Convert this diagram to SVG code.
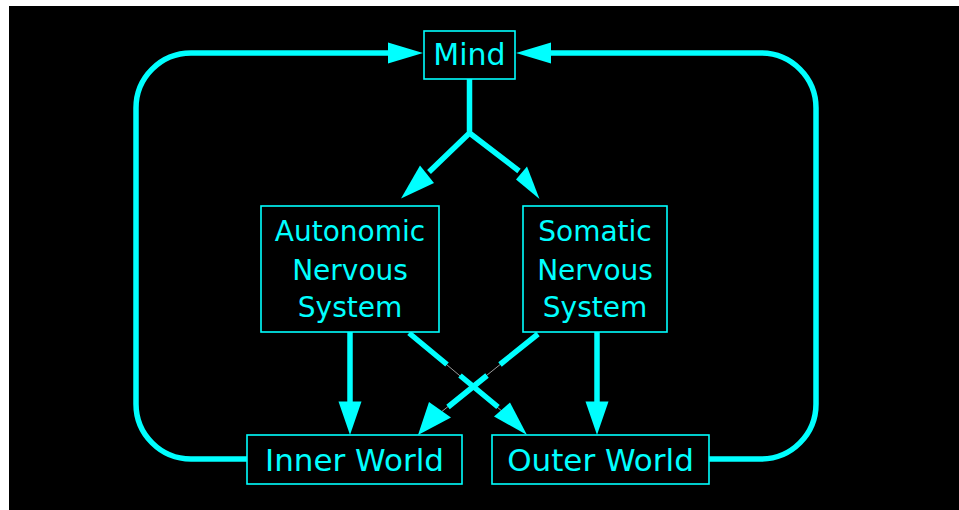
<svg xmlns="http://www.w3.org/2000/svg" width="959" height="510" viewBox="0 0 959 510">
  <defs>
    <style>
      .box { fill: #000; stroke: #00FFFF; stroke-width: 1.6; }
      .lbl { fill: #00FFFF; font-family: "DejaVu Sans", "Liberation Sans", sans-serif; text-anchor: middle; }
      .wire { fill: none; stroke: #00FFFF; stroke-width: 5.5; stroke-linecap: butt; }
      .thin { fill: none; stroke: #9a9a9a; stroke-width: 1; }
      .head { fill: #00FFFF; stroke: none; }
    </style>
  </defs>
  <rect x="0" y="0" width="959" height="510" fill="#fff"/>
  <rect x="9" y="6" width="950" height="504" fill="#000"/>

  <g id="connectors">
    <!-- outer loops -->
    <path class="wire" d="M 247 459 H 191 A 55 55 0 0 1 136 404 V 108 A 55 55 0 0 1 191 53 H 392"/>
    <polygon class="head" points="423,53 388,42.5 388,63.5"/>
    <path class="wire" d="M 709 459 H 761 A 55 55 0 0 0 816 404 V 108 A 55 55 0 0 0 761 53 H 548"/>
    <polygon class="head" points="516,53 551,42.5 551,63.5"/>

    <!-- Mind split -->
    <path class="wire" d="M 469.5 79 V 133 L 429 172 M 469.5 133 L 519 171"/>
    <polygon class="head" points="401,198.5 420,165.5 434,183"/>
    <polygon class="head" points="539.5,199 516,179.5 527,166.5"/>

    <!-- vertical arrows -->
    <path class="wire" d="M 350 332 V 404"/>
    <polygon class="head" points="350,435 338.5,401.5 361.5,401.5"/>
    <path class="wire" d="M 597 332 V 404"/>
    <polygon class="head" points="597,435 585.5,401.5 608.5,401.5"/>

    <!-- crossing arrows -->
    <path class="thin" d="M 409 333 L 503 412"/>
    <path class="wire" d="M 409 333 L 447 364.5 M 460 375.5 L 498 407"/>
    <polygon class="head" points="527,435 494,416.5 510,402.5"/>

    <path class="thin" d="M 538 334 L 440 413"/>
    <path class="wire" d="M 538 334 L 500 364.5 M 487 375.5 L 448 407"/>
    <polygon class="head" points="418,435 429,402 451,417.5"/>
  </g>

  <g id="mind">
    <rect class="box" x="424" y="31" width="91" height="48"/>
    <text class="lbl" x="469.5" y="65" font-size="30">Mind</text>
  </g>
  <g id="autonomic">
    <rect class="box" x="261" y="206" width="178" height="126"/>
    <text class="lbl" x="350" y="241" font-size="28">Autonomic</text>
    <text class="lbl" x="350" y="280" font-size="28">Nervous</text>
    <text class="lbl" x="350" y="317" font-size="28">System</text>
  </g>
  <g id="somatic">
    <rect class="box" x="523" y="206" width="144" height="126"/>
    <text class="lbl" x="595" y="241" font-size="28">Somatic</text>
    <text class="lbl" x="595" y="280" font-size="28">Nervous</text>
    <text class="lbl" x="595" y="317" font-size="28">System</text>
  </g>
  <g id="inner">
    <rect class="box" x="247" y="435" width="215" height="49"/>
    <text class="lbl" x="354.5" y="471" font-size="31">Inner World</text>
  </g>
  <g id="outer">
    <rect class="box" x="492" y="435" width="217" height="49"/>
    <text class="lbl" x="600.5" y="471" font-size="31">Outer World</text>
  </g>
</svg>
